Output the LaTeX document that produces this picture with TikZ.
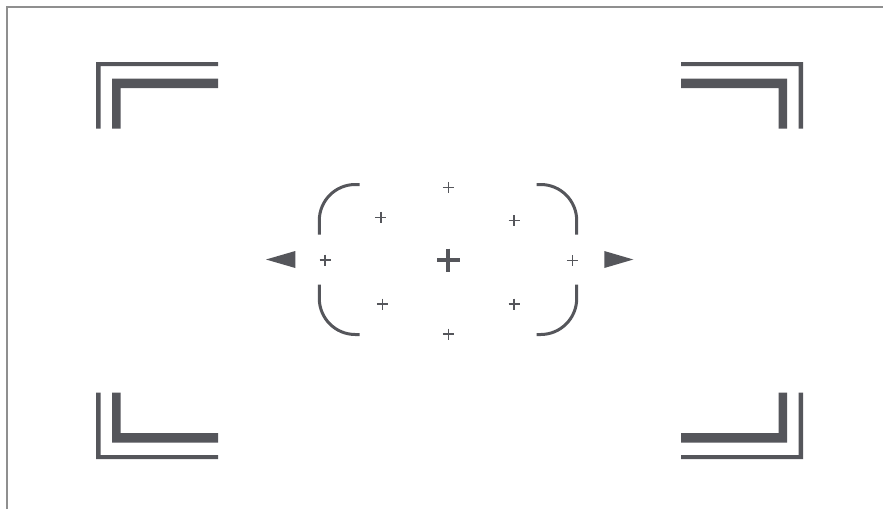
\documentclass[tikz,border=0pt]{standalone}
\usepackage{xcolor}
\usepackage{tikz}
\usetikzlibrary{calc}
\definecolor{markgray}{HTML}{55565B}
\definecolor{framegray}{HTML}{8F8F8F}

\begin{document}
\begin{tikzpicture}[x=1pt,y=-1pt,
  finder/.style={fill=markgray},
  bracketline/.style={draw=markgray,line width=3pt,rounded corners=36pt},
  smallcross/.style={draw=markgray,line width=1.6pt},
  bigcross/.style={draw=markgray,line width=4pt}]

\useasboundingbox (0,0) rectangle (883,509);
\fill[white] (0,0) rectangle (883,509);

% frame, only top and left edges show
\draw[framegray,line width=1.3pt] (7,509) -- (7,7) -- (883,7);

\coordinate (ctr) at (449.5,260.5);
\coordinate (aim) at (448,259.5);

% double corner marks
\foreach \sx/\sy in {1/1,-1/1,1/-1,-1/-1}{
  \begin{scope}[shift={(ctr)},xscale=\sx,yscale=\sy]
    \fill[finder] (-353.5,-132) -- (-353.5,-198.5) -- (-231.5,-198.5)
      -- (-231.5,-194.5) -- (-349,-194.5) -- (-349,-132) -- cycle;
    \fill[finder] (-337.5,-132) -- (-337.5,-182) -- (-231.5,-182)
      -- (-231.5,-172.5) -- (-329,-172.5) -- (-329,-132) -- cycle;
  \end{scope}
}

% rounded focus brackets
\foreach \sx/\sy in {1/1,-1/1,1/-1,-1/-1}{
  \begin{scope}[shift={(aim)},xscale=\sx,yscale=\sy]
    \draw[bracketline] (-88.5,-75) -| (-128.7,-25);
  \end{scope}
}

% side arrows
\fill[finder] (266,259.5) -- (295.3,251) -- (295.3,268) -- cycle;
\fill[finder] (633.3,259.5) -- (604.3,251) -- (604.3,268) -- cycle;

% focus points
\foreach \cx/\cy in {448.3/187.3,380.7/217.3,514/220.5,325/260,572.3/260.5,382.3/304,514/304,448.3/334}
  \draw[smallcross,shift={(\cx,\cy)}] (-5.5,0) -- (5.5,0) (0,-5.5) -- (0,5.5);
\draw[bigcross] (437,260.3) -- (459.6,260.3) (448.3,248.5) -- (448.3,272);

\end{tikzpicture}
\end{document}
